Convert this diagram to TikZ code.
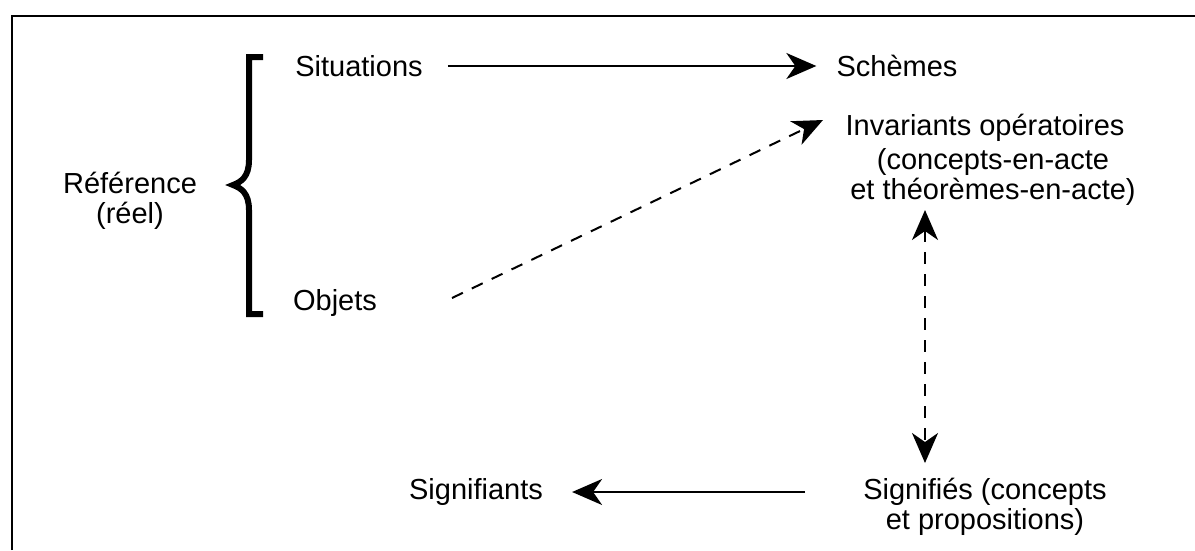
\documentclass[tikz,border=0pt]{standalone}
\usepackage{fontspec}
\setmainfont{Liberation Sans}
\usepackage{tikz}
\usetikzlibrary{positioning,arrows.meta,calc}
\tikzset{
  lbl/.style   = {font=\fontsize{29}{30}\selectfont, inner sep=2pt, align=center},
  flow/.style  = {-{Stealth[length=30pt,width=26pt,inset=9pt]}, line width=2pt},
  dflow/.style = {flow, dash pattern=on 12pt off 10pt},
  dboth/.style = {dflow, {Stealth[length=30pt,width=26pt,inset=9pt]}-{Stealth[length=30pt,width=26pt,inset=9pt]}},
  brace/.style = {line width=6pt, line join=miter},
  frame/.style = {line width=2pt},
}

\begin{document}
\begin{tikzpicture}[x=1pt,y=-1pt]
  \useasboundingbox (0,0) rectangle (1195,550);
  \draw[frame] (12,550) -- (12,16) -- (1195,16);
  % left column
  \node[lbl] (ref) at (130,201) {Référence\\(réel)};
  \node[lbl] (sit) at (359,66) {Situations};
  \node[lbl] (obj) at (335,303) {Objets};
  \draw[brace] (263,57) -- (249,57) -- (249,160) .. controls (249,177) and (241,182) .. (233,185)
    .. controls (241,188) and (249,193) .. (249,210) -- (249,314) -- (263,314);
  % right column
  \node[lbl] (sch) at (897,66) {Schèmes};
  \node[lbl] (inv) at (985,128) {Invariants opératoires};
  \node[lbl] (invsub) at (993,177) {(concepts-en-acte\\et théorèmes-en-acte)};
  \node[lbl] (sig) at (985,507) {Signifiés (concepts\\et propositions)};
  \node[lbl] (sfts) at (476,492) {Signifiants};
  % connectors
  \coordinate (dstart) at (452,298);
  \coordinate (dend) at (823,120);
  \coordinate (vtop) at (925,210);
  \coordinate (vbot) at (925,463);
  \draw[flow, shorten <=23pt, shorten >=18pt] (sit) -- (sch);
  \draw[dflow] (dstart) -- (dend);
  \draw[dboth] (vtop) -- (vbot);
  \draw[flow, shorten <=56pt, shorten >=27pt] ([yshift=15pt]sig.west) -- (sfts.east);
\end{tikzpicture}
\end{document}
